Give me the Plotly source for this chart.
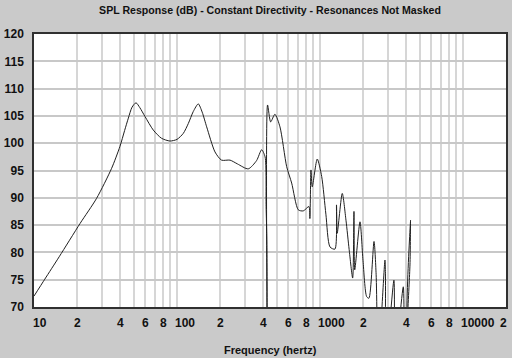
import math
import plotly.graph_objects as go

# Frequency response (Hz, dB); values below 70 dB are off-chart (clipped)
freq_hz = [10, 11.9, 15, 21, 27.4, 34.9, 39.9, 43, 45.7, 48.5, 51.7, 55, 59.7, 68.3, 78, 89.3, 100,
           110.7, 120, 130, 140.9, 150, 161.3, 184.4, 205, 235, 265, 315, 360, 391, 413, 420,
           425, 428, 430, 452, 484, 525, 585, 634, 705, 764, 837, 850, 865, 883,
           957, 1028, 1100, 1175, 1273, 1305, 1320, 1432, 1520, 1600, 1693, 1729, 1750,
           1905, 2000, 2121, 2200, 2387, 2470, 2557, 2848, 2870, 2900, 3290, 3350,
           3826, 3900, 4260, 4300, 4330, 6000, 20000]
spl_db = [72.0, 75.1, 79.2, 85.3, 89.9, 95.4, 99.4, 102.3, 104.6, 106.6, 107.4, 106.5, 104.9, 102.4, 100.9, 100.4, 100.7,
          101.8, 103.6, 105.8, 107.2, 105.7, 103.0, 98.4, 96.9, 96.9, 96.2, 95.3, 96.8, 98.8, 97.5, 88.4,
          82.3, 60.0, 107.0, 103.9, 105.3, 103.0, 95.7, 92.7, 87.8, 87.6, 88.4, 86.2, 95.1, 92.0,
          97.1, 93.9, 87.0, 81.0, 80.6, 88.7, 83.5, 90.8, 85.9, 80.5, 75.3, 87.5, 76.8,
          85.6, 78.5, 71.9, 71.6, 82.0, 76.0, 60.0, 78.6, 76.2, 60.0, 74.9, 60.0,
          73.7, 60.0, 77.7, 85.9, 60.0, 60.0, 60.0]

x_tick_vals = [10, 20, 30, 40, 50, 60, 70, 80, 90, 100, 200, 300, 400, 500, 600, 700, 800, 900,
               1000, 2000, 3000, 4000, 5000, 6000, 7000, 8000, 9000, 10000, 20000]
x_tick_text = ["10", "2", "", "4", "", "6", "", "8", "", "100", "2", "", "4", "", "6", "", "8", "",
               "1000", "2", "", "4", "", "6", "", "8", "", "10000", "2"]
decade_lines = [100, 1000, 10000]
y_tick_vals = [70, 75, 80, 85, 90, 95, 100, 105, 110, 115, 120]

BG = "#cacaca"
FONT = "Liberation Sans, Arial, sans-serif"
TXT = "#111111"

fig = go.Figure()
fig.add_trace(go.Scatter(x=freq_hz, y=spl_db, mode="lines",
                         line=dict(color="#202020", width=1, shape="spline", smoothing=0.7),
                         hoverinfo="skip"))

# darker decade grid lines (log axis: shape/annotation x is given as log10)
for d in decade_lines:
    fig.add_shape(type="line", xref="x", yref="paper", x0=math.log10(d), x1=math.log10(d),
                  y0=0, y1=1, line=dict(color="#a8a8a8", width=2), layer="below")

# x tick labels: multi-digit labels start just left of their grid line, digits centred
last = x_tick_vals[-1]
for v, t in zip(x_tick_vals, x_tick_text):
    if not t:
        continue
    multi = len(t) > 1
    fig.add_annotation(x=math.log10(v), xref="x", y=-0.0586, yref="paper", text=t,
                       showarrow=False,
                       xanchor="left" if multi else "center", yanchor="middle",
                       xshift=-3.5 if multi else (-2.5 if v == last else 0),
                       font=dict(family=FONT, size=12, color=TXT, weight="bold"))

fig.add_annotation(x=0.5, xref="paper", y=-0.1575, yref="paper", text="Frequency (hertz)",
                   showarrow=False, xanchor="center", yanchor="middle",
                   font=dict(family=FONT, size=11, color=TXT, weight="bold"))

fig.update_layout(
    width=512, height=358,
    margin=dict(l=34, r=6, t=34, b=51),
    paper_bgcolor=BG, plot_bgcolor="white",
    showlegend=False,
    title=dict(text="SPL Response (dB) - Constant Directivity - Resonances Not Masked",
               x=0.5, xanchor="center", xref="paper", y=1, yanchor="top", yref="container",
               pad=dict(t=7),
               font=dict(family=FONT, size=10.6, color=TXT, weight="bold")),
    xaxis=dict(type="log", range=[1, 4.30103], automargin=False,
               tickmode="array", tickvals=x_tick_vals, showticklabels=False,
               ticks="", showgrid=True, gridcolor="#d6d6d6", gridwidth=2,
               showline=True, linecolor="#303030", linewidth=1.5, mirror=True,
               zeroline=False),
    yaxis=dict(range=[70, 120], tickmode="array", tickvals=y_tick_vals, automargin=False,
               ticks="outside", ticklen=6, tickcolor="rgba(0,0,0,0)",
               tickfont=dict(family=FONT, size=12, color=TXT, weight="bold"),
               showgrid=True, gridcolor="#c8c8c8", gridwidth=2,
               showline=True, linecolor="#303030", linewidth=1.5, mirror=True,
               zeroline=False),
)

fig.write_html("out.html", config={"displayModeBar": False},
               post_script="document.body.style.margin='0';document.body.style.background='%s';" % BG)
